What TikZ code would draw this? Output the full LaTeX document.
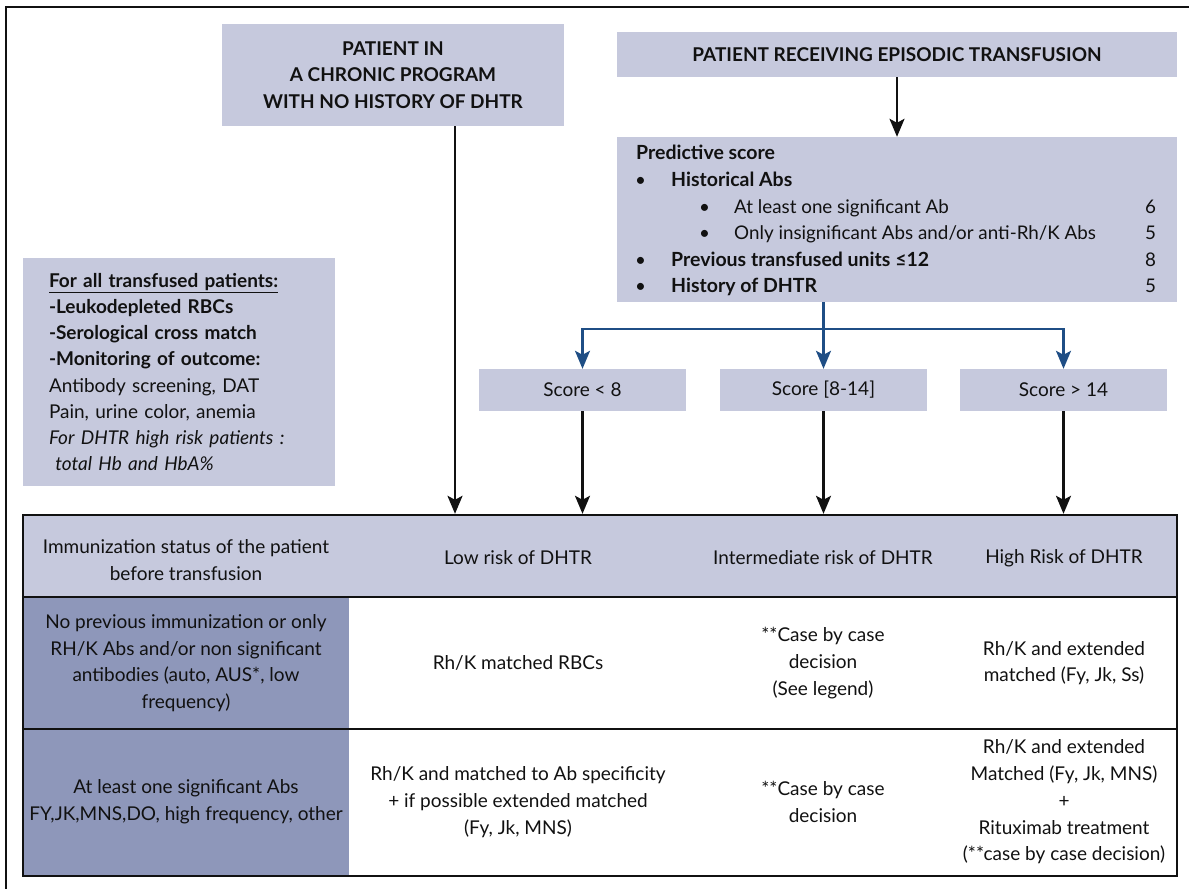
\documentclass[tikz,border=0pt]{standalone}
\usepackage{fontspec}
\setmainfont{Lato}
\usepackage{tikz}
\usetikzlibrary{arrows.meta}
\definecolor{lav}{HTML}{C6C9DD}
\definecolor{slate}{HTML}{8E97BA}
\definecolor{navy}{HTML}{1F4E85}
\definecolor{ink}{HTML}{111111}
\tikzset{
  frame/.style={draw=ink, line width=2.5pt},
  box/.style={fill=lav, inner sep=0pt, align=center},
  title/.style={box, text=ink, font=\fontsize{19}{26.5}\selectfont\bfseries},
  scorebox/.style={box, text=ink, minimum width=207, minimum height=42, font=\fontsize{19}{26.7}\selectfont},
  arr/.style={draw=ink, line width=2.2pt, -{Stealth[length=18pt, width=15pt, inset=4pt]}},
  barr/.style={draw=navy, line width=2.2pt, -{Stealth[length=18pt, width=15pt, inset=4pt]}},
  ptxt/.style={anchor=base west, inner sep=0pt, text=ink, font=\fontsize{18.8}{26.7}\selectfont},
  pbold/.style={ptxt, font=\fontsize{19.5}{26.7}\selectfont\bfseries},
  pnum/.style={anchor=base, inner sep=0pt, text=ink, font=\fontsize{18.8}{26.7}\selectfont},
  cell/.style={align=center, inner sep=0pt, text=ink, font=\fontsize{19}{26.7}\selectfont},
  rule/.style={draw=ink, line width=2.4pt}
}
\begin{document}
\begin{tikzpicture}[x=1pt, y=-1pt]
  \useasboundingbox (0,0) rectangle (1189,889);
  \draw[frame] (6,895) -- (6,7) -- (1195,7);

  \node[title, minimum width=342, minimum height=102] (chronic) at (393,75)
    {PATIENT IN\\A CHRONIC PROGRAM\\WITH NO HISTORY OF DHTR};
  \node[title, minimum width=560, minimum height=45] (episodic) at (897,54.5)
    {PATIENT RECEIVING EPISODIC TRANSFUSION};

  % predictive score
  \node[box, minimum width=560, minimum height=165] (pred) at (897,219.5) {};
  \node[pbold] (ps) at (636,159) {Predictive score};
  \node[ptxt] (b1) at (635,186) {\textbullet};
  \node[pbold] (hab) at (671,186) {Historical Abs};
  \node[ptxt] (b2) at (699,213) {\textbullet};
  \node[ptxt] (sig) at (734,213) {At least one significant Ab};
  \node[ptxt] (b3) at (699,239.5) {\textbullet};
  \node[ptxt] (ins) at (734,239.5) {Only insignificant Abs and/or anti-Rh/K Abs};
  \node[ptxt] (b4) at (635,266) {\textbullet};
  \node[pbold] (prev) at (671,266) {Previous transfused units ≤12};
  \node[ptxt] (b5) at (635,292.5) {\textbullet};
  \node[pbold] (hist) at (671,292.5) {History of DHTR};
  \node[pnum] (n1) at (1150.5,213) {6};
  \node[pnum] (n2) at (1150.5,239.5) {5};
  \node[pnum] (n3) at (1150.5,266) {8};
  \node[pnum] (n4) at (1150.5,292.5) {5};

  % scores
  \node[scorebox] (low) at (582.5,390) {Score < 8};
  \node[scorebox] (mid) at (823.5,390) {Score [8-14]};
  \node[scorebox] (high) at (1063.5,390) {Score > 14};

  % all patients
  \node[box, minimum height=228, text width=260, inner xsep=26pt, align=left, text=ink,
        font=\fontsize{19}{26.2}\selectfont] (care) at (179,372)
    {\textbf{\underline{For all transfused patients:}}\\
     \textbf{-Leukodepleted RBCs}\\
     \textbf{-Serological cross match}\\
     \textbf{-Monitoring of outcome:}\\
     Antibody screening, DAT\\
     Pain, urine color, anemia\\
     \textit{For DHTR high risk patients :}\\
     \textit{\ total Hb and HbA\%}};

  % table
  \fill[lav] (23,515) rectangle (1177,597);
  \fill[slate] (23,597) rectangle (349,876);
  \node[draw=ink, line width=2.4pt, inner sep=0pt, minimum width=1154, minimum height=361] (tbl) at (600,695.5) {};
  \draw[rule] (tbl.west |- 0,597) -- (tbl.east |- 0,597);
  \draw[rule] (tbl.west |- 0,729) -- (tbl.east |- 0,729);

  \node[cell] (h0) at (186,560) {Immunization status of the patient\\before transfusion};
  \node[cell] (h1) at (518,558) {Low risk of DHTR};
  \node[cell] (h2) at (823,558) {Intermediate risk of DHTR};
  \node[cell] (h3) at (1064,558) {High Risk of DHTR};

  \node[cell] (r10) at (186,663) {No previous immunization or only\\RH/K Abs and/or non significant\\antibodies (auto, AUS*, low\\frequency)};
  \node[cell] (r11) at (518,663) {Rh/K matched RBCs};
  \node[cell] (r12) at (823,663) {**Case by case\\decision\\(See legend)};
  \node[cell] (r13) at (1064,663) {Rh/K and extended\\matched (Fy, Jk, Ss)};

  \node[cell] (r20) at (186,802) {At least one significant Abs\\FY,JK,MNS,DO, high frequency, other};
  \node[cell] (r21) at (518,802) {Rh/K and matched to Ab specificity\\+ if possible extended matched\\(Fy, Jk, MNS)};
  \node[cell] (r22) at (823,802) {**Case by case\\decision};
  \node[cell] (r23) at (1064,802) {Rh/K and extended\\Matched (Fy, Jk, MNS)\\+\\Rituximab treatment\\(**case by case decision)};

  % connectors
  \coordinate (entry) at (455,0);
  \coordinate (fork) at (823.5,329);
  \draw[arr] (episodic.south) -- (pred.north);
  \draw[arr] (chronic.south -| entry) -- (tbl.north -| entry);
  \draw[barr] (pred.south -| mid.north) -- (mid.north);
  \draw[barr] (fork) -| (low.north);
  \draw[barr] (fork) -| (high.north);
  \draw[arr] (low.south) -- (tbl.north -| low.south);
  \draw[arr] (mid.south) -- (tbl.north -| mid.south);
  \draw[arr] (high.south) -- (tbl.north -| high.south);
\end{tikzpicture}
\end{document}
